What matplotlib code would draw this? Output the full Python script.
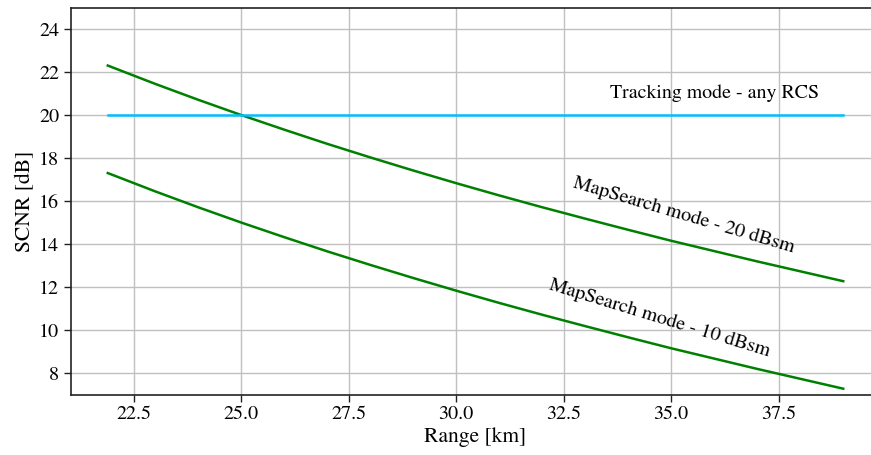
import matplotlib
matplotlib.use("Agg")
import matplotlib.pyplot as plt

plt.rcParams['font.family'] = ['STIXGeneral', 'DejaVu Serif']
plt.rcParams['mathtext.fontset'] = 'stix'

range_km = [21.9, 23, 24, 25, 26, 27, 28, 29, 30, 31, 32, 33, 34, 35, 36, 37, 38, 39]
scnr_20dbsm = [22.30, 21.45, 20.71, 20.00, 19.32, 18.66, 18.03, 17.42, 16.83,
               16.26, 15.71, 15.18, 14.66, 14.15, 13.67, 13.19, 12.73, 12.27]
scnr_10dbsm = [17.30, 16.45, 15.71, 15.00, 14.32, 13.66, 13.03, 12.42, 11.83,
               11.26, 10.71, 10.18, 9.66, 9.15, 8.67, 8.19, 7.73, 7.27]
tracking_threshold = [20.0] * len(range_km)

label_tracking = "Tracking mode - any RCS"
label_20 = "MapSearch mode - 20 dBsm"
label_10 = "MapSearch mode - 10 dBsm"

W, H = 871, 455
fig = plt.figure(figsize=(W / 100, H / 100), dpi=100)
ax = fig.add_axes([71 / W, 60.5 / H, 809 / W, 387 / H])

ax.plot(range_km, scnr_20dbsm, color='green', lw=1.8)
ax.plot(range_km, scnr_10dbsm, color='green', lw=1.8)
ax.plot(range_km, tracking_threshold, color='deepskyblue', lw=1.8)

ax.set_ylim(7, 25)
ax.set_yticks([8, 10, 12, 14, 16, 18, 20, 22, 24])
ax.set_xticks([22.5, 25.0, 27.5, 30.0, 32.5, 35.0, 37.5])
ax.grid(True, color='#c0c0c0', lw=1.0)
ax.set_axisbelow(True)

for s in ax.spines.values():
    s.set_color('#222222')
    s.set_linewidth(1.2)
ax.tick_params(labelsize=14.5, length=5, width=1.0, color='#222222')

ax.set_xlabel("Range [km]", fontsize=15.5, labelpad=3)
ax.set_ylabel("SCNR [dB]", fontsize=15.5, labelpad=3)

ax.text(36.0, 21.0, label_tracking, fontsize=14.3, ha='center', va='center')
ax.text(35.3, 15.35, label_20, fontsize=14.5, ha='center', va='center',
        rotation=-16.5, rotation_mode='anchor')
ax.text(34.72, 10.56, label_10, fontsize=14.5, ha='center', va='center',
        rotation=-17, rotation_mode='anchor')

fig.savefig("out.png", dpi=100)
